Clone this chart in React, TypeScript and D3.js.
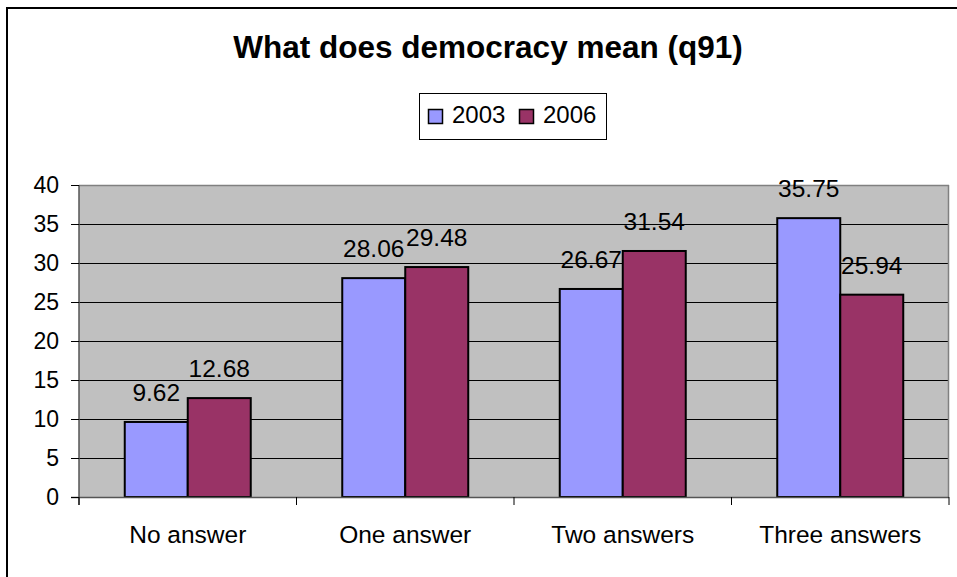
import React, { useEffect } from "react";
import * as d3 from "d3";

const categories = ["No answer", "One answer", "Two answers", "Three answers"];
const seriesNames = ["2003", "2006"];
const values2003 = [9.62, 28.06, 26.67, 35.75];
const values2006 = [12.68, 29.48, 31.54, 25.94];
const yTicks = [0, 5, 10, 15, 20, 25, 30, 35, 40];
const colors = ["#9999FF", "#993366"];

const W = 957;
const H = 577;
const plot = { left: 79, right: 949, top: 185, bottom: 497 };
const FONT = "'Liberation Sans', Arial, sans-serif";

export default function App() {
  useEffect(() => {
    document.body.style.margin = "0";
  }, []);

  const y = d3.scaleLinear().domain([0, 40]).range([plot.bottom, plot.top]);
  const x0 = d3
    .scaleBand<string>()
    .domain(categories)
    .range([plot.left, plot.right])
    .paddingInner(0.4207)
    .paddingOuter(0.21035);
  const x1 = d3
    .scaleBand<string>()
    .domain(seriesNames)
    .range([0, x0.bandwidth()])
    .padding(0);

  const series = [values2003, values2006];
  const step = x0.step();
  const boundaries = d3.range(categories.length + 1).map((i) => plot.left + i * step);

  return (
    <svg width={W} height={H} style={{ display: "block", background: "#fff" }}>
      {/* outer chart frame */}
      <rect x={7} y={8} width={W + 20} height={H + 20} fill="#fff" stroke="#000" strokeWidth={2} />

      {/* title */}
      <text x={488} y={58} textAnchor="middle" fontFamily={FONT} fontWeight="bold" fontSize={31.5} fill="#000">
        What does democracy mean (q91)
      </text>

      {/* legend */}
      <g>
        <rect x={419.5} y={93.5} width={187} height={46} fill="#fff" stroke="#000" strokeWidth={1} />
        {seriesNames.map((s, i) => {
          const sx = [428, 519][i];
          return (
            <g key={s}>
              <rect x={sx + 0.5} y={109.5} width={14} height={14} fill={colors[i]} stroke="#000" strokeWidth={1.5} />
              <text x={sx + 24} y={123} fontFamily={FONT} fontSize={24} fill="#000">
                {s}
              </text>
            </g>
          );
        })}
      </g>

      {/* plot area */}
      <rect x={plot.left} y={plot.top} width={plot.right - plot.left} height={plot.bottom - plot.top} fill="#C0C0C0" />

      {/* gridlines */}
      {yTicks
        .filter((t) => t > 0 && t < 40)
        .map((t) => (
          <line key={t} x1={plot.left} x2={plot.right} y1={Math.round(y(t)) + 0.5} y2={Math.round(y(t)) + 0.5} stroke="#000" strokeWidth={1} />
        ))}

      {/* plot border */}
      <line x1={plot.left} x2={plot.right} y1={plot.top + 0.5} y2={plot.top + 0.5} stroke="#808080" strokeWidth={1.5} />
      <line x1={plot.right - 0.5} x2={plot.right - 0.5} y1={plot.top} y2={plot.bottom} stroke="#808080" strokeWidth={1.5} />

      {/* bars */}
      {categories.map((c, ci) =>
        seriesNames.map((s, si) => {
          const v = series[si][ci];
          const bx = (x0(c) as number) + (x1(s) as number);
          const bw = x1.bandwidth();
          return (
            <rect
              key={c + s}
              x={bx}
              y={y(v)}
              width={bw}
              height={plot.bottom - y(v)}
              fill={colors[si]}
              stroke="#000"
              strokeWidth={2}
            />
          );
        })
      )}

      {/* axes */}
      <line x1={plot.left} x2={plot.left} y1={plot.top} y2={plot.bottom + 8} stroke="#555" strokeWidth={1.5} />
      <line x1={plot.left - 8} x2={plot.right} y1={plot.bottom + 0.5} y2={plot.bottom + 0.5} stroke="#555" strokeWidth={1.5} />
      {yTicks.map((t) => (
        <g key={t}>
          <line x1={plot.left - 8} x2={plot.left} y1={Math.round(y(t)) + 0.5} y2={Math.round(y(t)) + 0.5} stroke="#000" strokeWidth={1} />
          <text x={59} y={y(t)} dy="0.36em" textAnchor="end" fontFamily={FONT} fontSize={23} fill="#000">
            {t}
          </text>
        </g>
      ))}
      {boundaries.map((bx, i) => (
        <line key={i} x1={bx} x2={bx} y1={plot.bottom} y2={plot.bottom + 8} stroke="#000" strokeWidth={1} />
      ))}
      {categories.map((c) => (
        <text
          key={c}
          x={(x0(c) as number) + x0.bandwidth() / 2}
          y={543}
          textAnchor="middle"
          fontFamily={FONT}
          fontSize={24.5}
          fill="#000"
        >
          {c}
        </text>
      ))}

      {/* value labels */}
      {categories.map((c, ci) =>
        seriesNames.map((s, si) => {
          const v = series[si][ci];
          const cx = (x0(c) as number) + (x1(s) as number) + x1.bandwidth() / 2;
          return (
            <text key={"l" + c + s} x={cx} y={y(v) - 21} textAnchor="middle" fontFamily={FONT} fontSize={24.5} fill="#000">
              {v.toFixed(2)}
            </text>
          );
        })
      )}
    </svg>
  );
}
